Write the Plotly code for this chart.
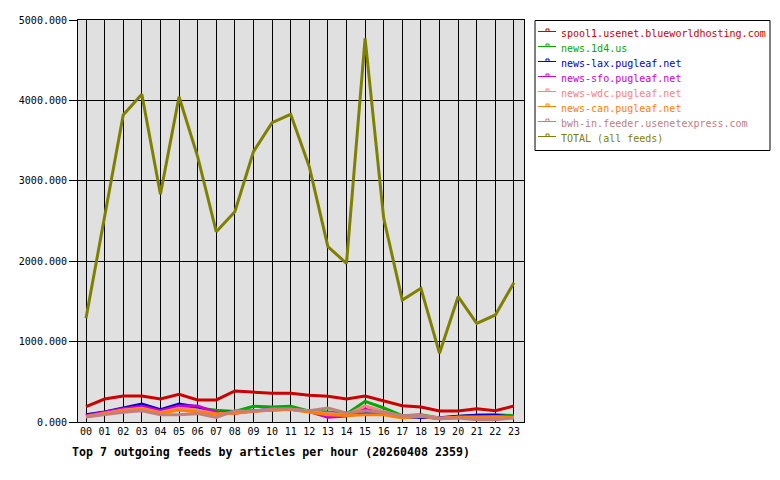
import plotly.graph_objects as go

hours = [f"{h:02d}" for h in range(24)]

series_names = [
    "spool1.usenet.blueworldhosting.com",
    "news.1d4.us",
    "news-lax.pugleaf.net",
    "news-sfo.pugleaf.net",
    "news-wdc.pugleaf.net",
    "news-can.pugleaf.net",
    "bwh-in.feeder.usenetexpress.com",
    "TOTAL (all feeds)",
]
series_colors = ["#CC0000", "#00AA00", "#0000CC", "#CC00CC", "#FF8080", "#FF8000", "#C08080", "#808000"]

spool1 = [191, 286, 323, 323, 286, 344, 274, 274, 386, 369, 357, 357, 332, 320, 286, 323, 261, 203, 187, 137, 137, 166, 141, 199]
news_1d4 = [79, 120, 162, 187, 145, 187, 174, 145, 130, 195, 187, 195, 133, 124, 100, 257, 174, 79, 91, 50, 70, 83, 91, 79]
news_lax = [91, 124, 174, 224, 153, 224, 186, 116, 124, 145, 157, 157, 133, 104, 83, 104, 104, 62, 62, 54, 70, 83, 83, 62]
news_sfo = [78, 125, 165, 195, 140, 200, 200, 120, 110, 140, 150, 160, 130, 58, 75, 158, 110, 70, 75, 40, 60, 46, 45, 60]
news_wdc = [70, 110, 150, 170, 120, 170, 150, 100, 120, 140, 155, 160, 130, 110, 90, 200, 130, 70, 80, 50, 60, 60, 60, 60]
news_can = [65, 105, 140, 160, 110, 150, 120, 95, 110, 130, 150, 155, 120, 90, 80, 90, 90, 50, 70, 40, 60, 65, 65, 60]
bwh_in = [62, 95, 120, 141, 91, 91, 104, 58, 141, 133, 162, 162, 141, 174, 112, 141, 120, 79, 79, 41, 50, 29, 29, 50]
total = [1290, 2570, 3818, 4076, 2832, 4046, 3300, 2367, 2616, 3362, 3723, 3827, 3176, 2181, 1974, 4772, 2533, 1517, 1663, 854, 1559, 1227, 1331, 1733]

all_series = [spool1, news_1d4, news_lax, news_sfo, news_wdc, news_can, bwh_in, total]
y_ticks = [0, 1000, 2000, 3000, 4000, 5000]
title_text = "Top 7 outgoing feeds by articles per hour (20260408 2359)"

W, H = 780, 480
L, R, T, B = 78, 524, 20, 422
FONT = "DejaVu Sans Mono"

def px(x):
    return (x - L) / (R - L)

def py(y):
    return (B - y) / (B - T)

fig = go.Figure()
for name, color, vals in zip(series_names, series_colors, all_series):
    fig.add_trace(go.Scatter(
        x=hours, y=vals, mode="lines", name=name,
        line=dict(color=color, width=3), showlegend=False,
    ))

shapes = []
annotations = []
# legend box
shapes.append(dict(type="rect", xref="paper", yref="paper",
                   x0=px(535), x1=px(770), y0=py(20.5), y1=py(150.5),
                   line=dict(color="black", width=1), fillcolor="white", layer="above"))
for i, (name, color) in enumerate(zip(series_names, series_colors)):
    yc = 31.5 + 15 * i
    shapes.append(dict(type="line", xref="paper", yref="paper",
                       x0=px(538), x1=px(556), y0=py(yc), y1=py(yc),
                       line=dict(color=color, width=1), layer="above"))
    shapes.append(dict(type="rect", xref="paper", yref="paper",
                       x0=px(546), x1=px(549), y0=py(yc - 2.5), y1=py(yc),
                       line=dict(color=color, width=1), fillcolor="white", layer="above"))
    annotations.append(dict(xref="paper", yref="paper", x=px(559), y=py(yc + 1.5),
                            xanchor="left", yanchor="middle", showarrow=False,
                            text=name, font=dict(family=FONT, size=10, color=color)))

annotations.append(dict(xref="paper", yref="paper", x=px(70), y=py(452),
                        xanchor="left", yanchor="middle", showarrow=False,
                        text="<b>" + title_text + "</b>",
                        font=dict(family=FONT, size=11.6, color="black")))

fig.update_layout(
    width=W, height=H,
    margin=dict(l=L, r=W - R, t=T, b=H - B, pad=0),
    paper_bgcolor="white", plot_bgcolor="#E0E0E0",
    font=dict(family=FONT, size=10, color="black"),
    shapes=shapes, annotations=annotations,
    showlegend=False,
)
fig.update_xaxes(
    type="category", range=[-0.43, 23.54], showgrid=True, gridcolor="black", gridwidth=1,
    showline=True, linecolor="black", linewidth=1, mirror=True, ticks="",
    tickfont=dict(family=FONT, size=10, color="black"), zeroline=False, fixedrange=True,
)
fig.update_yaxes(
    range=[0, 5000], tickvals=y_ticks, tickformat=".3f", showgrid=True, gridcolor="black", gridwidth=1,
    showline=True, linecolor="black", linewidth=1, mirror=True, ticks="outside", ticklen=8,
    tickcolor="black", tickfont=dict(family=FONT, size=10, color="black"), zeroline=False,
    fixedrange=True,
)

fig.write_html("out.html")
